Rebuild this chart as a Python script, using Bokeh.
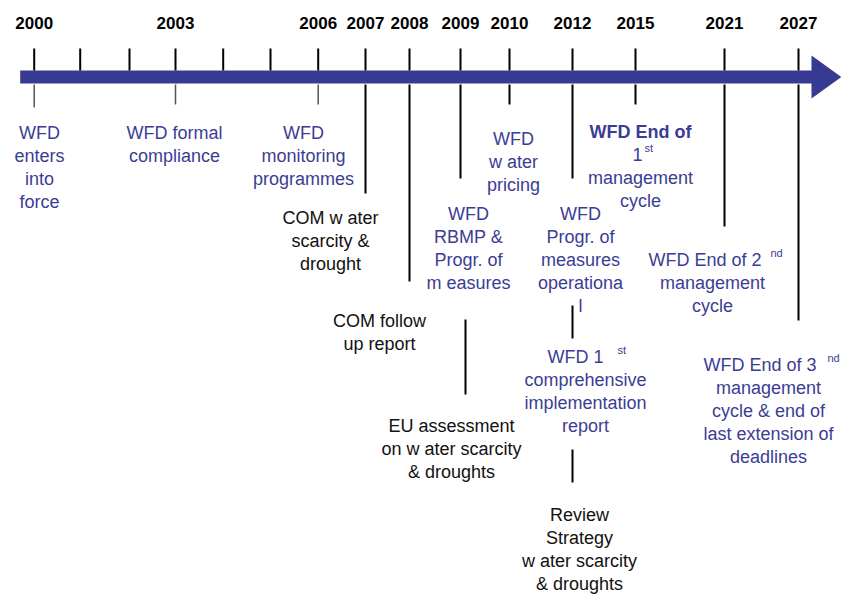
from bokeh.plotting import figure
from bokeh.models import Range1d, ColumnDataSource
from bokeh.embed import file_html
from bokeh.resources import INLINE
from bokeh.core.properties import value

# ---------------- data ----------------
tick_years = [2000, 2001, 2002, 2003, 2004, 2005, 2006, 2007, 2008, 2009, 2010, 2012, 2015, 2021, 2027]
# position of each year along the (non-linear) timeline
tick_pos = [33.7, 79.7, 129, 175, 222.7, 270, 317.7, 365, 409, 460, 509, 572, 635, 724, 798]
label_years = [2000, 2003, 2006, 2007, 2008, 2009, 2010, 2012, 2015, 2021, 2027]

event_years = [2000, 2003, 2006, 2007, 2008, 2009, 2009, 2010, 2012, 2012, 2012, 2015, 2021, 2027]
event_kind = ["WFD", "WFD", "WFD", "COM", "COM", "WFD", "COM", "WFD", "WFD", "WFD", "COM", "WFD", "WFD", "WFD"]
event_lines = [
    ["WFD", "enters", "into", "force"],
    ["WFD formal", "compliance"],
    ["WFD", "monitoring", "programmes"],
    ["COM w ater", "scarcity &", "drought"],
    ["COM follow", "up report"],
    ["WFD", "RBMP &", "Progr. of", "m easures"],
    ["EU assessment", "on w ater scarcity", "& droughts"],
    ["WFD", "w ater", "pricing"],
    ["WFD", "Progr. of", "measures", "operationa", "l"],
    ["WFD  1", "comprehensive", "implementation", "report"],
    ["Review", "Strategy", "w ater scarcity", "& droughts"],
    ["WFD End of", "1", "management", "cycle"],
    ["WFD End of 2", "management", "cycle"],
    ["WFD End of 3", "management", "cycle & end of", "last extension of", "deadlines"],
]
# superscripts: (event index, line index, text)
sup_event = [9, 11, 12, 13]
sup_line = [0, 1, 0, 0]
sup_text = ["st", "st", "nd", "nd"]
bold_lines = [(11, 0)]

# ---------------- layout ----------------
W, H = 841, 595
LH = 23
label_cx = [39, 174, 303, 330, 379, 468, 451, 513, 580, 585, 579, 640, 712, 768]
label_top = [132, 132, 132, 217, 320, 213, 425, 138, 213, 356, 514, 131, 259, 364]
conn_y0 = [84, 84, 84, 84, 84, 84, 319, 84, 84, 305, 449, 84, 84, 84]
conn_y1 = [107, 104, 104, 193, 281, 178, 394, 104, 178, 338, 482, 104, 226, 320]
conn_dx = [0, 0, 0, 0, 0, 0, 5, 0, 0, 0, 0, 0, 0, 0]
conn_grey = [True, True, True] + [False] * 11
# superscript lines: right edge of main text, left of superscript
sup_main_right = [608, 642, 761, 816]
sup_left = [617, 644, 770, 827]

BLUE_TXT = "#3b3d94"
ARROW = "#373a92"
FONT = "Liberation Sans"

pos = dict(zip(tick_years, tick_pos))

p = figure(width=W, height=H, output_backend="svg", toolbar_location=None,
           x_range=Range1d(0, W), y_range=Range1d(H, 0),
           min_border=0, outline_line_color=None, background_fill_color="white")
p.axis.visible = False
p.grid.visible = False

# arrow body and head
p.quad(left=[tick_pos[0] - 14], right=[tick_pos[-1] + 14], top=[70], bottom=[83],
       fill_color=ARROW, line_color=None)
head_x = tick_pos[-1] + 13
p.patch([head_x, head_x, head_x + 30], [55, 98, 76.5], fill_color=ARROW, line_color=None)

# ticks above arrow
p.segment(x0=tick_pos, x1=tick_pos, y0=[48] * len(tick_pos), y1=[70] * len(tick_pos),
          line_color="black", line_width=2)

# year labels
p.text(x=[pos[y] for y in label_years], y=[22] * len(label_years),
       text=[str(y) for y in label_years], text_font=value(FONT), text_font_style="bold",
       text_font_size="17px", text_align="center", text_baseline="middle", text_color="black")

# connectors
cx = [pos[y] + d for y, d in zip(event_years, conn_dx)]
for grey in (True, False):
    idx = [i for i in range(len(cx)) if conn_grey[i] == grey]
    p.segment(x0=[cx[i] for i in idx], x1=[cx[i] for i in idx],
              y0=[conn_y0[i] for i in idx], y1=[conn_y1[i] for i in idx],
              line_color="#555555" if grey else "black", line_width=1.5 if grey else 2)

# event texts
groups = {"center": dict(x=[], y=[], text=[], color=[]),
          "bold": dict(x=[], y=[], text=[], color=[]),
          "right": dict(x=[], y=[], text=[], color=[]),
          "sup": dict(x=[], y=[], text=[], color=[])}
sup_map = {(e, l): k for k, (e, l) in enumerate(zip(sup_event, sup_line))}
for i, lines in enumerate(event_lines):
    col = BLUE_TXT if event_kind[i] == "WFD" else "#111111"
    for j, t in enumerate(lines):
        yy = label_top[i] + j * LH
        if (i, j) in sup_map:
            k = sup_map[(i, j)]
            g = groups["right"]
            g["x"].append(sup_main_right[k]); g["y"].append(yy); g["text"].append(t); g["color"].append(col)
            s = groups["sup"]
            s["x"].append(sup_left[k]); s["y"].append(yy - 7); s["text"].append(sup_text[k]); s["color"].append(col)
        else:
            g = groups["bold"] if (i, j) in bold_lines else groups["center"]
            g["x"].append(label_cx[i]); g["y"].append(yy); g["text"].append(t); g["color"].append(col)

common = dict(text_font=value(FONT), text_baseline="middle", text_color="color")
p.text(x="x", y="y", text="text", source=ColumnDataSource(groups["center"]),
       text_font_size="18px", text_align="center", **common)
p.text(x="x", y="y", text="text", source=ColumnDataSource(groups["bold"]),
       text_font_size="18px", text_align="center", text_font_style="bold", **common)
p.text(x="x", y="y", text="text", source=ColumnDataSource(groups["right"]),
       text_font_size="18px", text_align="right", **common)
p.text(x="x", y="y", text="text", source=ColumnDataSource(groups["sup"]),
       text_font_size="11px", text_align="left", **common)

open("out.html", "w").write(file_html(p, INLINE))
